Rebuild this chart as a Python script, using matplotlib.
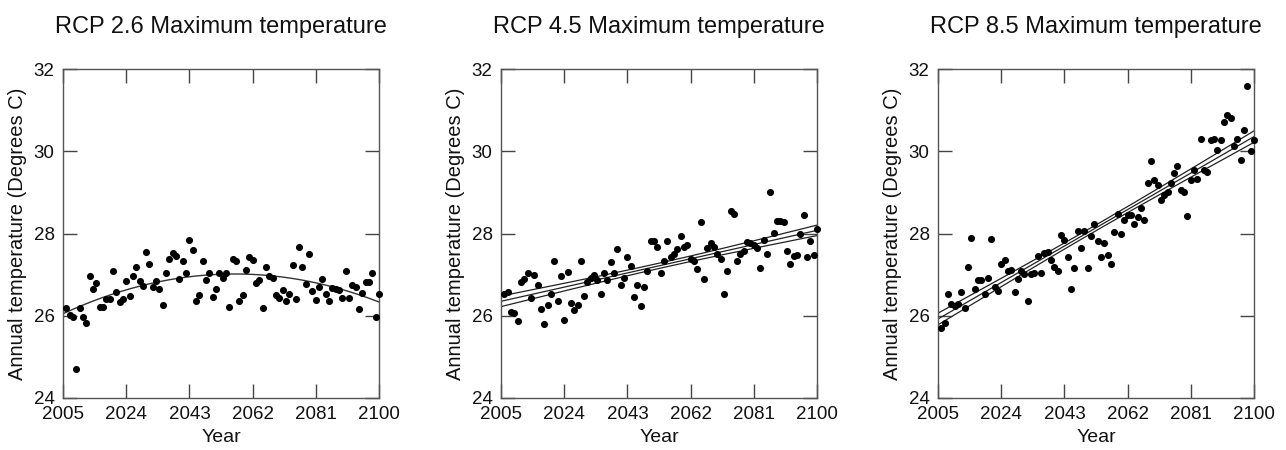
import numpy as np
import matplotlib
matplotlib.use("Agg")
import matplotlib.pyplot as plt

plt.rcParams['font.family'] = ['Liberation Sans', 'DejaVu Sans']

# Years of the annual series (one point per year)
years = np.arange(2006, 2101)

# Annual maximum temperature (Degrees C)
rcp26 = [26.18, 26.02, 25.98, 24.71, 26.18, 25.98, 25.83, 26.97, 26.65, 26.79,
         26.21, 26.21, 26.40, 26.41, 27.08, 26.57, 26.33, 26.40, 26.85, 26.49,
         26.97, 27.19, 26.85, 26.73, 27.54, 27.26, 26.69, 26.85, 26.66, 26.25,
         27.05, 27.39, 27.52, 27.46, 26.89, 27.32, 27.05, 27.85, 27.60, 26.37,
         26.51, 27.32, 26.87, 27.05, 26.46, 26.65, 27.04, 26.93, 27.04, 26.21,
         27.38, 27.32, 26.37, 26.51, 27.12, 27.43, 27.36, 26.79, 26.87, 26.18,
         27.18, 26.97, 26.92, 26.50, 26.44, 26.63, 26.37, 26.53, 27.24, 26.41,
         27.67, 27.18, 26.77, 27.50, 26.61, 26.39, 26.70, 26.89, 26.53, 26.37,
         26.67, 26.65, 26.63, 26.42, 27.08, 26.42, 26.74, 26.70, 26.17, 26.55,
         26.81, 26.81, 27.04, 25.98, 26.53]

rcp45 = [26.53, 26.57, 26.09, 26.07, 25.87, 26.82, 26.90, 27.05, 26.44, 26.98,
         26.75, 26.16, 25.80, 26.25, 26.53, 27.33, 26.35, 26.96, 25.89, 27.07,
         26.31, 26.14, 26.27, 27.32, 26.48, 26.82, 26.91, 26.98, 26.86, 26.53,
         27.05, 26.86, 27.30, 27.04, 27.62, 26.74, 26.92, 27.43, 27.22, 26.46,
         26.74, 26.23, 26.70, 27.10, 27.82, 27.81, 27.66, 27.03, 27.33, 27.81,
         27.43, 27.50, 27.63, 27.95, 27.67, 27.71, 27.37, 27.33, 27.13, 28.29,
         26.89, 27.64, 27.76, 27.66, 27.50, 27.38, 26.53, 27.09, 28.54, 28.48,
         27.33, 27.50, 27.57, 27.80, 27.77, 27.72, 27.64, 27.16, 27.85, 27.50,
         29.02, 28.02, 28.31, 28.30, 28.28, 27.58, 27.26, 27.45, 27.47, 27.98,
         28.45, 27.42, 27.81, 27.48, 28.11]

rcp85 = [25.71, 25.82, 26.53, 26.29, 26.23, 26.28, 26.57, 26.18, 27.18, 27.90,
         26.64, 26.87, 26.86, 26.53, 26.93, 27.86, 26.69, 26.61, 27.26, 27.36,
         27.10, 27.12, 26.57, 26.89, 27.10, 27.01, 26.37, 27.01, 27.03, 27.45,
         27.03, 27.52, 27.56, 27.35, 27.18, 27.10, 27.97, 27.84, 27.44, 26.66,
         27.15, 28.07, 27.64, 28.07, 27.15, 27.95, 28.24, 27.81, 27.43, 27.76,
         27.48, 27.26, 28.03, 28.48, 27.98, 28.33, 28.44, 28.44, 28.22, 28.41,
         28.63, 28.34, 29.23, 29.77, 29.29, 29.19, 28.81, 28.93, 29.01, 29.23,
         29.46, 29.64, 29.06, 29.00, 28.42, 29.29, 29.55, 29.32, 30.30, 29.55,
         29.50, 30.28, 30.31, 30.02, 30.28, 30.72, 30.88, 30.82, 30.13, 30.30,
         29.79, 30.52, 31.59, 30.00, 30.27]

titles = ["RCP 2.6 Maximum temperature",
          "RCP 4.5 Maximum temperature",
          "RCP 8.5 Maximum temperature"]
fit_degree = [2, 1, 1]
show_band = [False, True, True]

xticks = [2005, 2024, 2043, 2062, 2081, 2100]
yticks = [24, 26, 28, 30, 32]

lefts = [63, 501, 938]


def linear_band(x, y, xs, k=1.4):
    # least squares line with a band of k standard errors of the mean
    n = len(x)
    b, a = np.polyfit(x, y, 1)
    res = y - (a + b * x)
    s = np.sqrt(np.sum(res ** 2) / (n - 2))
    sxx = np.sum((x - x.mean()) ** 2)
    se = s * np.sqrt(1.0 / n + (xs - x.mean()) ** 2 / sxx)
    fit = a + b * xs
    return fit, fit - k * se, fit + k * se


fig = plt.figure(figsize=(12.86, 4.5), dpi=100)

for i, data in enumerate([rcp26, rcp45, rcp85]):
    y = np.array(data)
    ax = fig.add_axes([lefts[i] / 1286, (450 - 398) / 450, 316 / 1286, 329 / 450])

    xs = np.linspace(2005, 2100, 200)
    if show_band[i]:
        fit, lo, hi = linear_band(years.astype(float), y, xs)
        for line in (lo, fit, hi):
            ax.plot(xs, line, color='#222222', lw=0.9, zorder=2)
    else:
        coef = np.polyfit(years, y, fit_degree[i])
        ax.plot(xs, np.polyval(coef, xs), color='#333333', lw=1.0, zorder=2)

    ax.scatter(years, y, s=26, color='black', zorder=3, clip_on=False,
               linewidths=0)

    ax.set_xlim(2005, 2100)
    ax.set_ylim(24, 32)
    ax.set_xticks(xticks)
    ax.set_yticks(yticks)
    ax.tick_params(direction='in', length=10, width=1, top=True, right=True,
                   labelsize=13.5, color='#444444', labelcolor='#111111')
    ax.tick_params(axis='y', pad=6)
    ax.tick_params(axis='x', pad=6)
    for sp in ax.spines.values():
        sp.set_color('#555555')
        sp.set_linewidth(1.0)

    ax.set_xlabel("Year", fontsize=14, labelpad=4, color='#111111')
    ax.set_ylabel("Annual temperature (Degrees C)", fontsize=14.5, labelpad=5,
                  color='#111111')
    ax.set_title(titles[i], fontsize=17, pad=26, color='#111111')

fig.savefig("out.png", dpi=100)
